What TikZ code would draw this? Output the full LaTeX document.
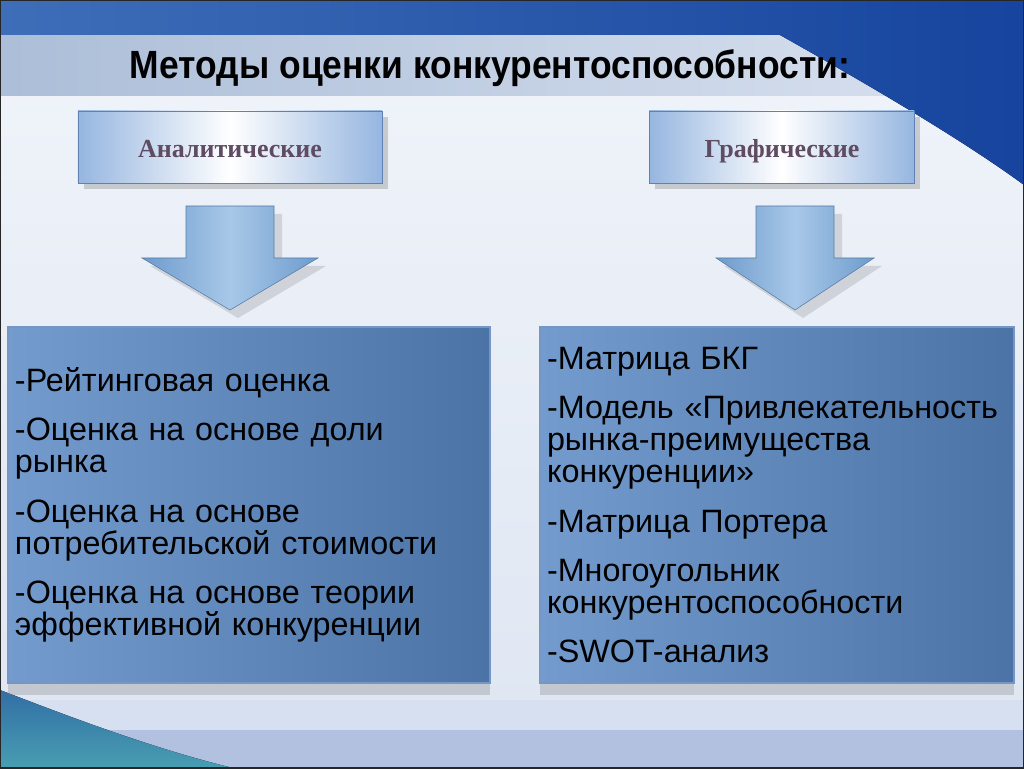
\documentclass[tikz,border=0pt]{standalone}
\usepackage{fontspec}
\setmainfont{Liberation Sans}
\newfontfamily\hdrfont{Liberation Serif}
\usetikzlibrary{positioning,shadows,calc}
\definecolor{topblue}{RGB}{22,68,158}
\definecolor{topblueL}{RGB}{62,110,184}
\definecolor{bandL}{RGB}{172,190,216}
\definecolor{bandR}{RGB}{218,226,240}
\definecolor{bgtop}{RGB}{241,244,250}
\definecolor{bgbot}{RGB}{222,230,242}
\definecolor{hdrside}{RGB}{150,182,224}
\definecolor{hdredge}{RGB}{95,130,180}
\definecolor{hdrtext}{RGB}{95,75,98}
\definecolor{boxedge}{RGB}{120,150,195}
\definecolor{boxleft}{RGB}{115,155,205}
\definecolor{boxlight}{RGB}{172,201,232}
\definecolor{boxdark}{RGB}{75,115,165}
\definecolor{arrowside}{RGB}{110,155,205}
\definecolor{arrowmid}{RGB}{168,200,232}
\definecolor{footblue}{RGB}{178,193,223}
\definecolor{footlight}{RGB}{214,224,240}
\definecolor{cornerblue}{RGB}{50,110,165}
\definecolor{cornerteal}{RGB}{72,158,178}

\begin{document}
\begin{tikzpicture}[x=0.25mm, y=0.25mm,
  hdrbox/.style={draw=hdredge, line width=0.6pt, left color=hdrside, right color=hdrside,
    middle color=white, minimum height=18mm, inner sep=0pt,
    drop shadow={shadow xshift=1.5mm, shadow yshift=-1.5mm, opacity=.35}},
  hdrlabel/.style={font=\hdrfont\bfseries\fontsize{18.5}{22}\selectfont, text=hdrtext, inner sep=0pt},
  itembox/.style={draw=boxedge, line width=0.8pt, left color=boxleft, middle color=boxlight,
    right color=boxdark, align=left, minimum height=89mm, inner xsep=1.75mm,
    font=\fontsize{23}{23}\selectfont,
    drop shadow={shadow xshift=0mm, shadow yshift=-3mm, opacity=.3}},
  blockarrow/.style={left color=arrowside, right color=arrowside, middle color=arrowmid,
    draw=arrowside!80!black, line width=0.4pt,
    drop shadow={shadow xshift=2mm, shadow yshift=-2mm, opacity=.25}},
]
\useasboundingbox (0,0) rectangle (1024,768);

% фон слайда
\fill[top color=bgtop, bottom color=bgbot] (0,0) rectangle (1024,768);
\fill[left color=bandL, right color=bandR] (0,672) rectangle (1024,733);
\fill[left color=topblueL, right color=topblue] (0,733) -- (780,733)
  .. controls (860,688) and (960,630) .. (1024,583)
  -- (1024,768) -- (0,768) -- cycle;
\fill[footlight] (0,38) rectangle (1024,68);
\fill[footblue] (0,0) rectangle (1024,38);
\fill[top color=cornerblue, bottom color=cornerteal] (0,78)
  .. controls (60,55) and (150,20) .. (233,0) -- (0,0) -- cycle;

% заголовок
\node[anchor=base, font=\bfseries\fontsize{28}{32}\selectfont]
  (title) at (490,689) {\scalebox{0.9}[1]{Методы оценки конкурентоспособности:}};

% группы методов
\node[hdrbox, minimum width=76mm] (anal) at (230,621) {};
\node[hdrbox, minimum width=66.25mm] (graf) at (781.5,621) {};
\node[hdrlabel, anchor=base] (analtxt) at (230,610) {Аналитические};
\node[hdrlabel, anchor=base] (graftxt) at (782,610) {Графические};

% стрелки
\foreach \cx/\sw/\hw in {230/44/88, 795/39/79}
  \draw[blockarrow] (\cx-\sw,562) -- (\cx+\sw,562) -- (\cx+\sw,510) -- (\cx+\hw,510)
    -- (\cx,458) -- (\cx-\hw,510) -- (\cx-\sw,510) -- cycle;

% списки методов
\node[itembox, text width=117mm] (analbox) at (249,263) {%
  -Рейтинговая оценка\\[12pt]
  -Оценка на основе доли\\ рынка\\[12pt]
  -Оценка на основе\\ потребительской стоимости\\[12pt]
  -Оценка на основе теории\\ эффективной конкуренции};
\node[itembox, text width=115mm] (grafbox) at (777,263) {%
  -Матрица БКГ\\[12pt]
  -Модель «Привлекательность\\ рынка-преимущества\\ конкуренции»\\[12pt]
  -Матрица Портера\\[12pt]
  -Многоугольник\\ конкурентоспособности\\[12pt]
  -SWOT-анализ};

\draw[black!85, line width=0.5mm] (0,0) rectangle (1024,768);
\end{tikzpicture}
\end{document}
